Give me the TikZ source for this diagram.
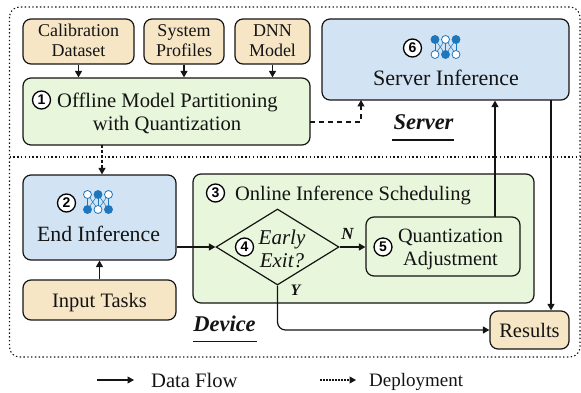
\documentclass[tikz,border=0pt]{standalone}
\usepackage{fontspec}
\setmainfont{Liberation Serif}
\newfontfamily\numfont{Liberation Sans}
\usetikzlibrary{arrows.meta,shapes.geometric,calc}
\definecolor{beige}{HTML}{F7E6C5}
\definecolor{lgreen}{HTML}{E8F6DC}
\definecolor{lblue}{HTML}{D2E4F4}
\definecolor{dotblue}{HTML}{1E76BC}
\definecolor{ink}{HTML}{141414}
\newcommand{\twoline}[2]{\raisebox{-1pt}[\height][\depth]{\begin{tabular}{@{}c@{}}#1\\#2\end{tabular}}}
\tikzset{
  x=1pt,y=-1pt,
  box/.style={draw=ink,line width=1.2pt,rounded corners=8pt,inner sep=0pt,align=center,font=\fontsize{18}{20.5}\selectfont,text=ink},
  beigebox/.style={box,fill=beige},
  greenbox/.style={box,fill=lgreen},
  bluebox/.style={box,fill=lblue},
  lbl/.style={inner sep=0pt,align=center,text=ink,font=\fontsize{20.6}{24}\selectfont},
  num/.style={circle,draw=black,fill=white,line width=1.3pt,minimum size=18pt,inner sep=0pt,font=\numfont\bfseries\fontsize{14}{14}\selectfont},
  arr/.style={draw=ink,line width=1.2pt,-{Triangle[length=6.5pt,width=7pt]}},
  dasharr/.style={arr,dash pattern=on 5pt off 4pt},
  dotarr/.style={arr,dash pattern=on 3pt off 2pt},
  region/.style={draw=ink,line width=1.1pt,dash pattern=on 1.4pt off 2.4pt},
  sidelabel/.style={inner sep=0pt,font=\bfseries\itshape\fontsize{22.5}{26}\selectfont,text=ink},
  nn/.style={circle,draw=dotblue,line width=0.8pt,minimum size=8pt,inner sep=0pt},
  nnon/.style={nn,fill=dotblue},
  nnoff/.style={nn,fill=white},
  nnline/.style={draw=dotblue,line width=0.5pt},
}
\newcommand{\nnicon}[8]{%
  \begin{scope}[shift={(#1,#2)}]
    \foreach \a/\b in {-10.5/-10.5,-10.5/0,0/-10.5,0/0,0/10.5,10.5/0,10.5/10.5}{\draw[nnline] (\a,-7.5) -- (\b,7.5);}
    \node[#3] at (-10.5,-7.5) {};\node[#4] at (0,-7.5) {};\node[#5] at (10.5,-7.5) {};
    \node[#6] at (-10.5,7.5) {};\node[#7] at (0,7.5) {};\node[#8] at (10.5,7.5) {};
  \end{scope}}
\begin{document}
\begin{tikzpicture}
\useasboundingbox (0,0) rectangle (581,393);
\draw[region,rounded corners=10pt] (9.5,7) rectangle (580,357);
\coordinate (sepL) at (9.5,157);
\coordinate (sepR) at (580,157);
\draw[region] (sepL) -- (sepR);
\node[beigebox,minimum width=111pt,minimum height=45pt] (cal) at (78.5,41.5) {\twoline{Calibration}{Dataset}};
\node[beigebox,minimum width=80pt,minimum height=45pt] (sys) at (184,41.5) {\twoline{System}{Profiles}};
\node[beigebox,minimum width=75pt,minimum height=45pt] (dnn) at (272.5,41.5) {\twoline{DNN}{Model}};
\node[greenbox,minimum width=287pt,minimum height=67pt] (off) at (166.5,111.5) {};
\node[bluebox,minimum width=247pt,minimum height=81pt] (srv) at (445.5,59.5) {};
\node[bluebox,minimum width=153pt,minimum height=85pt] (end) at (99.5,217.5) {};
\node[beigebox,minimum width=153pt,minimum height=40pt,font=\fontsize{20.5}{24}\selectfont] (inp) at (99.5,300) {\raisebox{-3pt}[\height][\depth]{Input Tasks}};
\node[greenbox,minimum width=341pt,minimum height=129pt] (onl) at (363.5,238.5) {};
\node[draw=ink,line width=1.2pt,fill=lgreen,shape=diamond,inner sep=0pt,minimum width=123pt,minimum height=76pt] (dia) at (277.5,247) {};
\node[greenbox,minimum width=154pt,minimum height=59pt] (qua) at (443,246.5) {};
\node[beigebox,minimum width=79pt,minimum height=38pt,font=\fontsize{20.5}{24}\selectfont] (res) at (529.5,330) {Results};
\node[lbl,anchor=west] (offA) at (57,102) {Offline Model Partitioning};
\node[lbl] (offB) at (167,125) {with Quantization};
\node[num] (n1) at (41.5,100) {1};
\node[lbl,font=\fontsize{22}{26}\selectfont] (srvT) at (446,78) {Server Inference};
\node[num] (n6) at (412.5,48) {6};
\nnicon{445.5}{47}{nnon}{nnoff}{nnon}{nnoff}{nnon}{nnoff}
\node[lbl,font=\fontsize{21.8}{26}\selectfont] (endT) at (98.5,234) {End Inference};
\node[num] (n2) at (66.5,203) {2};
\nnicon{98}{202}{nnoff}{nnon}{nnoff}{nnon}{nnoff}{nnon}
\node[lbl,font=\fontsize{20.5}{24}\selectfont] (onlT) at (353,195) {Online Inference Scheduling};
\node[num] (n3) at (215.5,193) {3};
\node[lbl,font=\itshape\fontsize{21}{23}\selectfont] (diaT) at (282,249) {Early\\Exit?};
\node[num] (n4) at (244.5,247) {4};
\node[lbl,font=\fontsize{20.3}{23}\selectfont] (quaT) at (450.5,249) {Quantization\\Adjustment};
\node[num] (n5) at (383,247) {5};
\node[sidelabel] (srvL) at (423.5,122.5) {Server};
\node[sidelabel] (devL) at (224.5,324) {Device};
\coordinate (srvLa) at (391.5,140); \coordinate (srvLb) at (454,140);
\coordinate (devLa) at (193,341.5); \coordinate (devLb) at (256.5,341.5);
\draw[draw=ink,line width=1.1pt] (srvLa) -- (srvLb);
\draw[draw=ink,line width=1.1pt] (devLa) -- (devLb);
\node[inner sep=0pt,font=\bfseries\itshape\fontsize{17}{17}\selectfont,text=ink] (N) at (347.5,233.5) {N};
\node[inner sep=0pt,font=\bfseries\itshape\fontsize{16}{16}\selectfont,text=ink] (Y) at (295.5,290) {Y};
\draw[arr] (cal.south) -- (cal.south |- off.north);
\draw[arr] (sys.south) -- (sys.south |- off.north);
\draw[arr] (dnn.south) -- (dnn.south |- off.north);
\coordinate (offOutD) at (102,145);
\draw[dotarr] (offOutD) -- (offOutD |- end.north);
\coordinate (offOutR) at (310,122);
\coordinate (srvInD) at (361,100);
\draw[dasharr] (offOutR) -- (offOutR -| srvInD) -- (srvInD);
\draw[arr] (end.east |- dia.west) -- (dia.west);
\draw[arr] (inp.north) -- (inp.north |- end.south);
\draw[arr] (dia.east) -- (dia.east -| qua.west);
\coordinate (quaOut) at (495,217);
\draw[arr] (quaOut) -- (quaOut |- srv.south);
\coordinate (srvOut) at (551,100);
\draw[arr] (srvOut) -- (srvOut |- res.north);
\draw[arr,rounded corners=8pt] (dia.south) -- (dia.south |- res.west) -- (res.west);
\coordinate (la) at (97,380); \coordinate (lb) at (134,380);
\draw[arr,line width=1.1pt] (la) -- (lb);
\node[lbl,font=\fontsize{20.6}{24}\selectfont,anchor=west] (lt1) at (151,380.5) {Data Flow};
\coordinate (lc) at (320,380); \coordinate (ld) at (356,380);
\draw[arr,line width=1.1pt,dash pattern=on 1.6pt off 1.4pt] (lc) -- (ld);
\node[lbl,font=\fontsize{19}{22}\selectfont,anchor=west] (lt2) at (369,382) {Deployment};
\end{tikzpicture}
\end{document}
